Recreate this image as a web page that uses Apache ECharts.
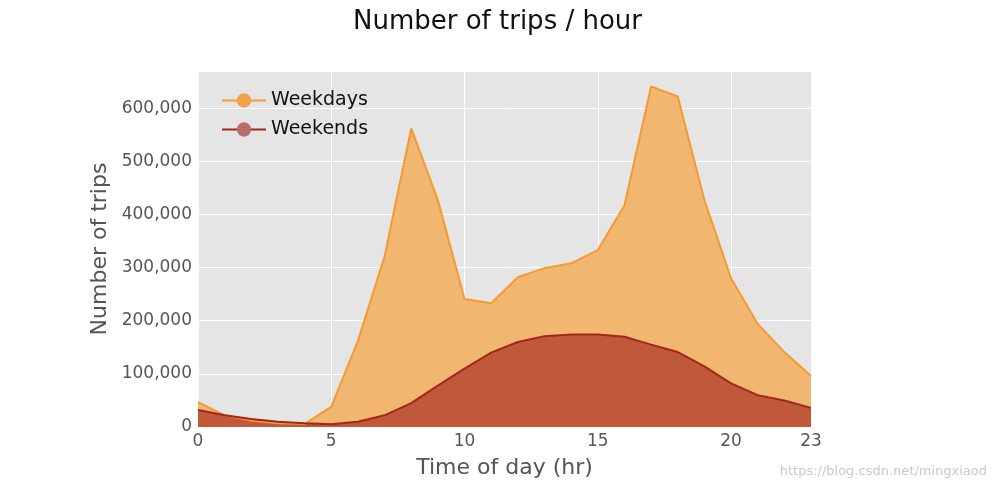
<!DOCTYPE html>
<html>
<head>
<meta charset="utf-8">
<script src="https://cdn.jsdelivr.net/npm/echarts@6/dist/echarts.min.js"></script>
<style>html,body{margin:0;padding:0;background:#fff}#main{width:995px;height:490px}</style>
</head>
<body>
<div id="main"></div>
<script>
// hours 0..23
var hours = [0,1,2,3,4,5,6,7,8,9,10,11,12,13,14,15,16,17,18,19,20,21,22,23];
var weekdays = [47000,22000,12000,7000,6000,38000,162000,321000,562000,427000,241000,233000,282000,299000,308000,333000,417000,641000,622000,427000,280000,194000,141000,96000];
var weekends = [32000,22000,15000,10000,7000,5000,10000,22000,45000,78000,110000,140000,160000,171000,174000,174000,170000,155000,141000,114000,82000,60000,50000,36000];

function pairs(vals) {
  return hours.map(function (h, i) { return [h, vals[i]]; });
}

var myChart = echarts.init(document.getElementById('main'));
var font = 'DejaVu Sans';
var option = {
  animation: false,
  textStyle: {fontFamily: font},
  title: {
    text: 'Number of trips / hour',
    left: 'center', top: 4,
    textStyle: {fontFamily: font, fontSize: 26, fontWeight: 'normal', color: '#111'}
  },
  grid: {left: 198, right: 184, top: 71, bottom: 63, show: true, backgroundColor: '#e5e5e5', borderWidth: 0},
  legend: {
    orient: 'vertical', left: 216, top: 86, itemGap: 10,
    itemWidth: 44, itemHeight: 18,
    textStyle: {fontSize: 19, color: '#111', fontFamily: font},
    data: ['Weekdays', 'Weekends']
  },
  xAxis: {
    type: 'value', min: 0, max: 23, interval: 5,
    name: 'Time of day (hr)', nameLocation: 'middle', nameGap: 30,
    nameTextStyle: {fontSize: 22, color: '#555', fontFamily: font},
    axisLine: {show: false}, axisTick: {show: false},
    axisLabel: {fontSize: 17, color: '#555', margin: 6},
    splitLine: {lineStyle: {color: '#fff', width: 1}}
  },
  yAxis: {
    type: 'value', min: 0, max: 670000, interval: 100000,
    name: 'Number of trips', nameLocation: 'middle', nameGap: 86,
    nameTextStyle: {fontSize: 22, color: '#555', fontFamily: font},
    axisLine: {show: false}, axisTick: {show: false},
    axisLabel: {fontSize: 17, color: '#555', showMaxLabel: false, margin: 6},
    splitLine: {lineStyle: {color: '#fff', width: 1}}
  },
  series: [
    {
      name: 'Weekdays', type: 'line', data: pairs(weekdays), symbol: 'none',
      itemStyle: {color: '#f3a04a', borderColor: '#f39a33'},
      lineStyle: {color: '#f39a33', width: 2},
      areaStyle: {color: 'rgb(241,182,112)', opacity: 1}
    },
    {
      name: 'Weekends', type: 'line', data: pairs(weekends), symbol: 'none',
      itemStyle: {color: '#b86d6a', borderColor: '#a3261a'},
      lineStyle: {color: '#a3261a', width: 2},
      areaStyle: {color: 'rgb(192,89,58)', opacity: 1}
    }
  ],
  graphic: [{
    type: 'text', right: 8, bottom: 12,
    style: {text: 'https://blog.csdn.net/mingxiaod', fontSize: 13, fill: '#c8c8c8', fontFamily: font}
  }]
};
myChart.setOption(option);
</script>
</body>
</html>
